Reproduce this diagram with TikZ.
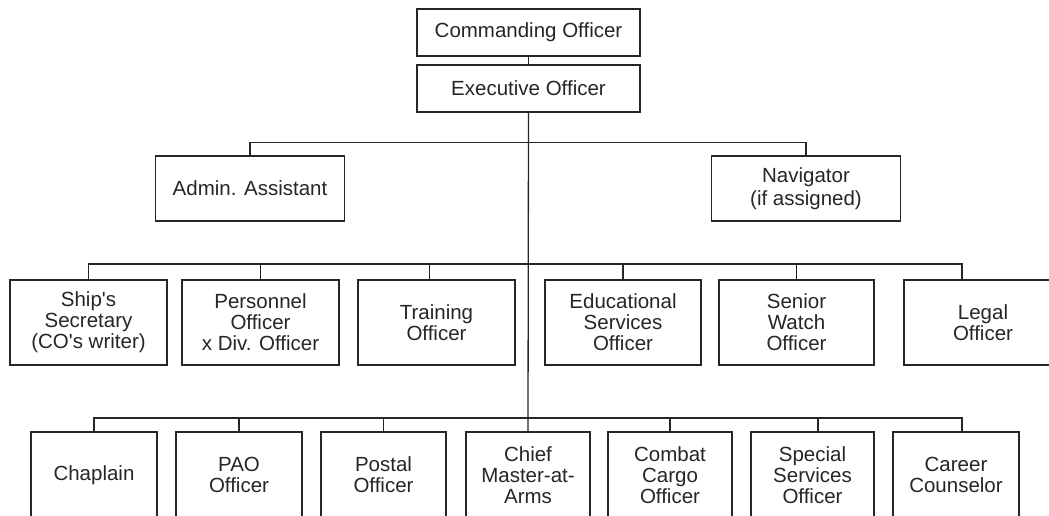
\documentclass[tikz,border=0pt]{standalone}
\usepackage{fontspec}
\newfontfamily\boxfamily{Liberation Sans}
\definecolor{ink}{RGB}{38,38,38}
\begin{document}
\begin{tikzpicture}[x=1pt,y=-1pt,
  box/.style={draw=ink, text=ink, line width=1.4pt, inner sep=0pt, align=center,
    font={\boxfamily\fontsize{20.5}{21}\selectfont}},
  row3/.style={box, minimum height=85pt},
  row4/.style={box, minimum height=86pt},
  wire/.style={draw=ink, line width=1.3pt}]
\useasboundingbox (0,0) rectangle (1049,515);
\clip (0,0) rectangle (1049,515);
\fill[white] (0,0) rectangle (1049,515);
% top
\node[box, minimum width=223pt, minimum height=47pt] (co) at (528.5,32.5) {Commanding Officer};
\node[box, minimum width=223pt, minimum height=47pt] (eo) at (528.5,88.5) {Executive Officer};
% staff
\node[box, minimum width=189pt, minimum height=65pt] (admin) at (250,188.5) {Admin. Assistant};
\node[box, minimum width=189pt, minimum height=65pt,
  font={\boxfamily\fontsize{20.5}{23}\selectfont}] (nav) at (806,188.5) {Navigator\\(if assigned)};
% row 3
\node[row3, minimum width=157pt] (ship) at (88.5,322.5) {Ship's\\Secretary\\(CO's writer)};
\node[row3, minimum width=157pt] (pers) at (260.5,322.5) {Personnel\\Officer\\x Div. Officer};
\node[row3, minimum width=157pt] (train) at (436.5,322.5) {Training\\Officer};
\node[row3, minimum width=156pt] (edu) at (623,322.5) {Educational\\Services\\Officer};
\node[row3, minimum width=155pt] (senior) at (796.5,322.5) {Senior\\Watch\\Officer};
\node[row3, minimum width=158pt] (legal) at (983,322.5) {Legal\\Officer};
% row 4
\node[row4, minimum width=126pt] (chap) at (94,475) {Chaplain};
\node[row4, minimum width=126pt] (pao) at (239,475) {PAO\\Officer};
\node[row4, minimum width=125pt] (postal) at (383.5,475) {Postal\\Officer};
\node[row4, minimum width=124pt] (chief) at (528,475) {Chief\\Master-at-\\Arms};
\node[row4, minimum width=124pt] (combat) at (670,475) {Combat\\Cargo\\Officer};
\node[row4, minimum width=123pt] (special) at (812.5,475) {Special\\Services\\Officer};
\node[row4, minimum width=126pt] (career) at (956,475) {Career\\Counselor};
% drop points
\coordinate (trainT) at ([xshift=-7pt]train.north);
\coordinate (legalT) at ([xshift=-21pt]legal.north);
\coordinate (specialT) at ([xshift=5.5pt]special.north);
\coordinate (careerT) at ([xshift=6pt]career.north);
\coordinate (bus2) at (528,142.5);
\coordinate (bus3) at (528,264);
\coordinate (bus4) at (528,418);
% connectors
\draw[wire] (co.south) -- (eo.north);
\draw[wire] (eo.south) -- (chief.north);
\draw[wire] (admin.north) |- (bus2) -| (nav.north);
\draw[wire] (ship.north) |- (bus3) -| (legalT);
\foreach \n in {pers.north, trainT, edu.north, senior.north}
  \draw[wire] (\n) -- (\n |- bus3);
\draw[wire] (chap.north) |- (bus4) -| (careerT);
\foreach \n in {pao.north, postal.north, combat.north, specialT}
  \draw[wire] (\n) -- (\n |- bus4);
\end{tikzpicture}
\end{document}
